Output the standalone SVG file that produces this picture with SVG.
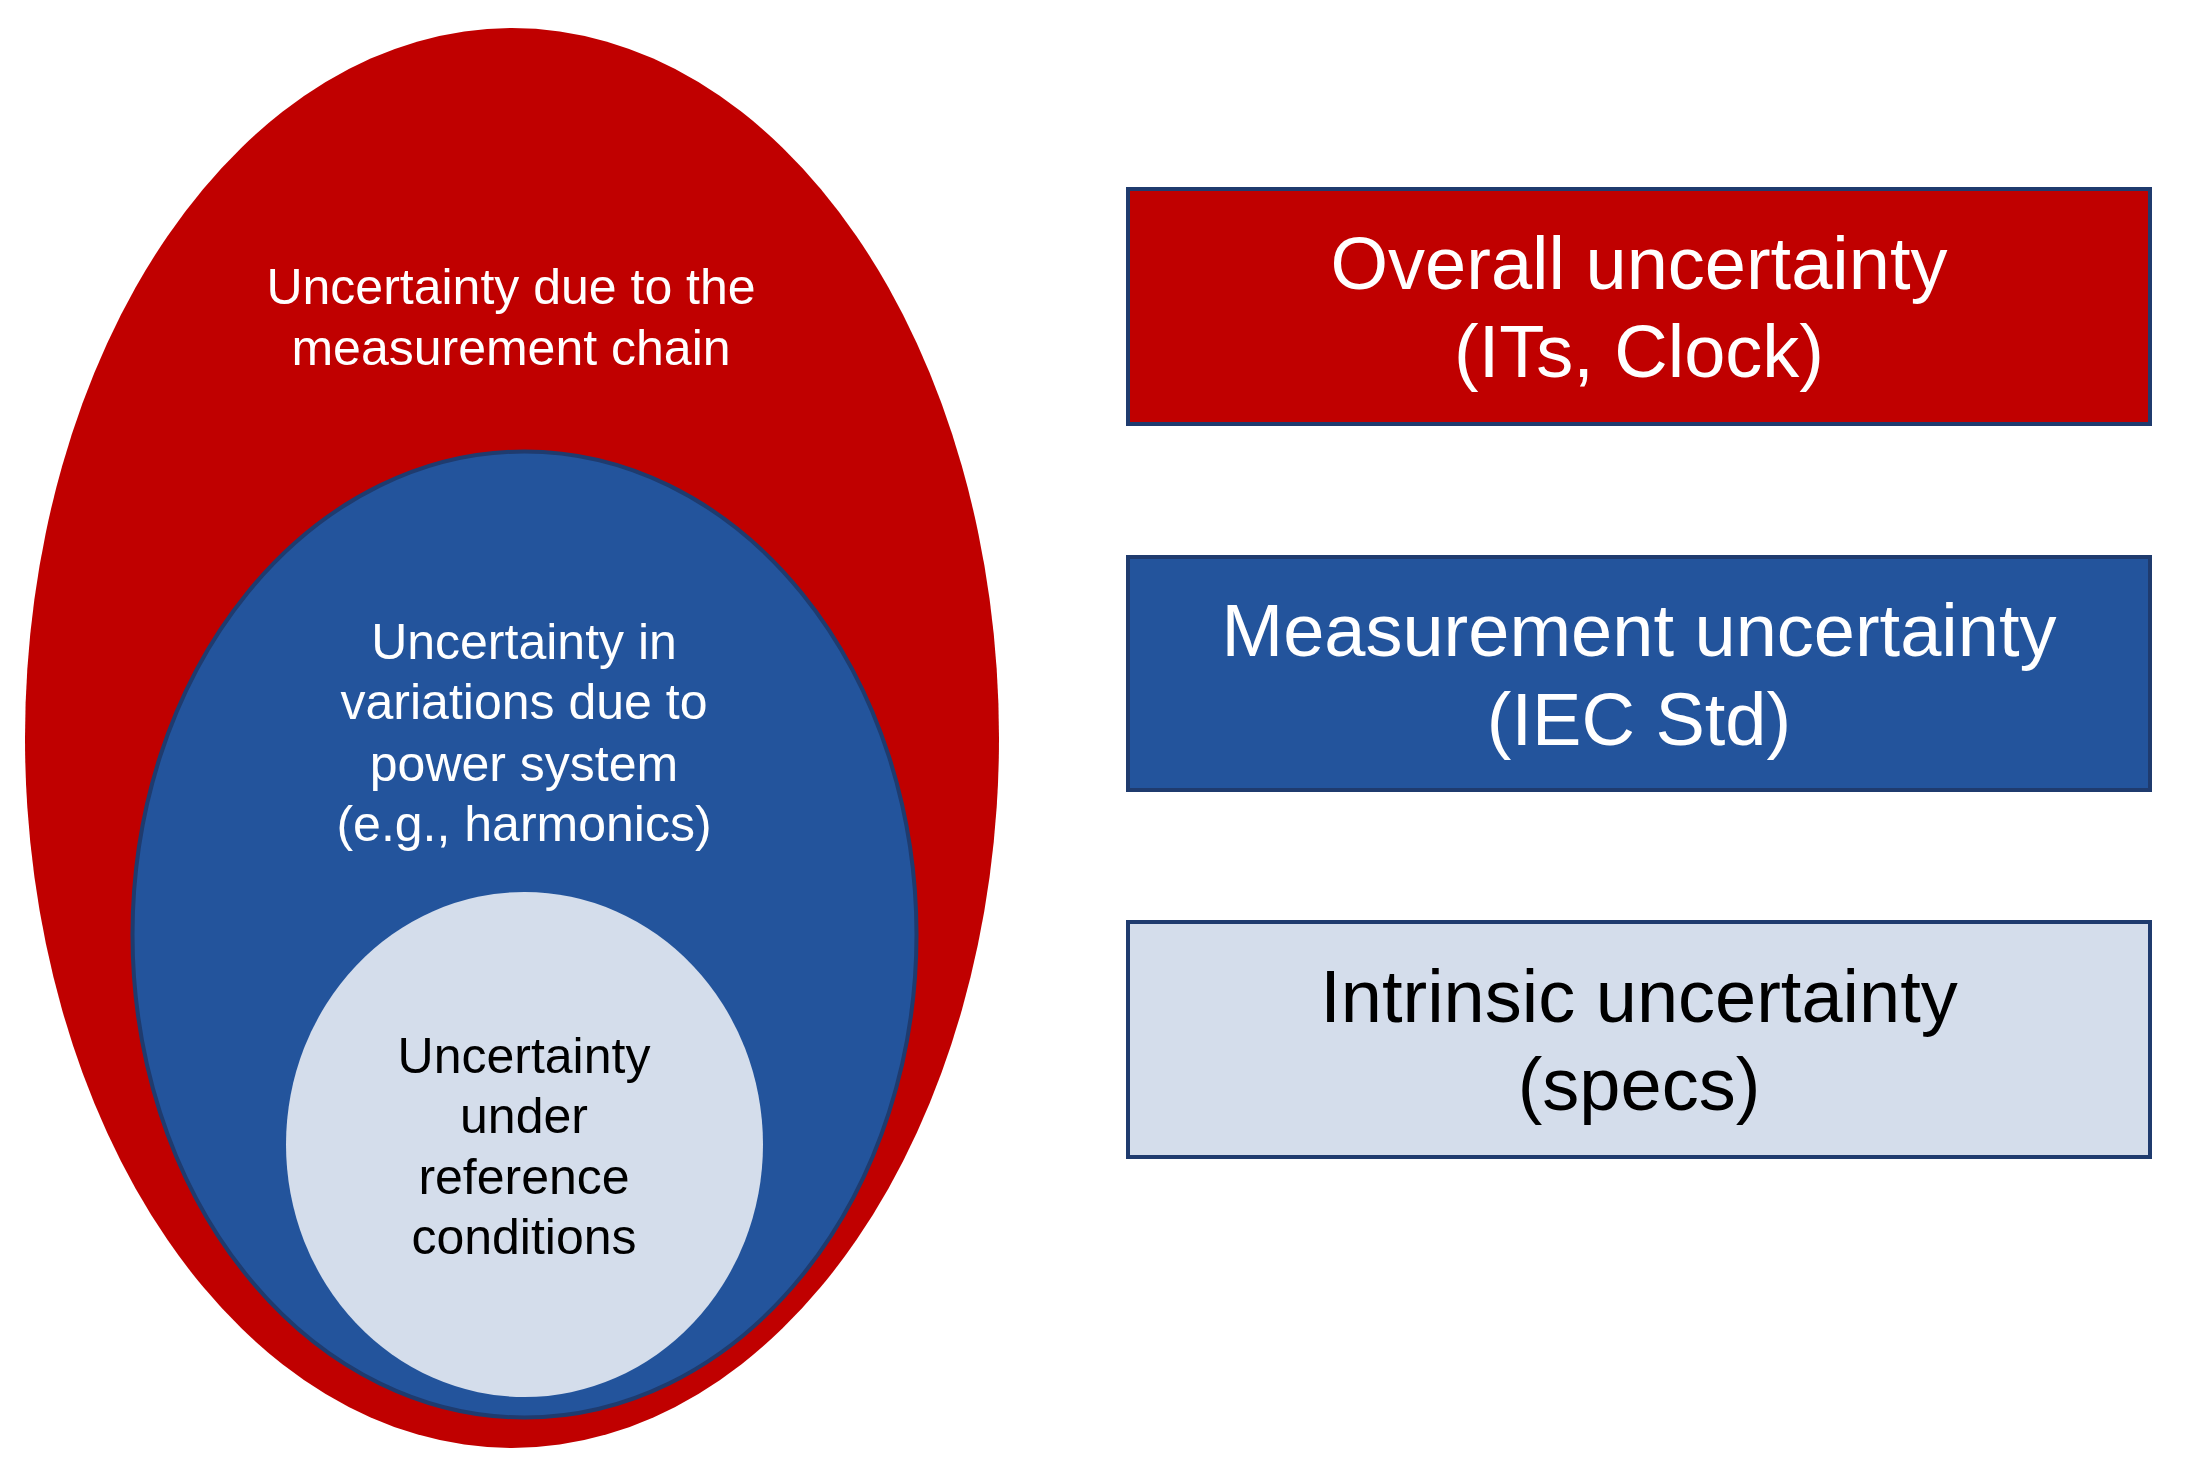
<svg xmlns="http://www.w3.org/2000/svg" width="2190" height="1472" viewBox="0 0 2190 1472">
<style>
text{font-family:"Liberation Sans",Arial,sans-serif;text-anchor:middle}
.s{font-size:50px}
.b{font-size:74px}
.w{fill:#FFFFFF}
.k{fill:#000000}
.box{stroke:#1F3B6E;stroke-width:4}
</style>
<rect width="2190" height="1472" fill="#FFFFFF"/>
<g id="outer">
<ellipse cx="512" cy="738" rx="487" ry="710" fill="#C00000"/>
<text class="s w" x="511" y="304">Uncertainty due to the</text>
<text class="s w" x="511" y="365">measurement chain</text>
</g>
<g id="middle">
<ellipse cx="524.5" cy="934.5" rx="392" ry="483" fill="#23549C" stroke="#1F3B6E" stroke-width="4"/>
<text class="s w" x="524" y="659">Uncertainty in</text>
<text class="s w" x="524" y="719">variations due to</text>
<text class="s w" x="524" y="781">power system</text>
<text class="s w" x="524" y="841">(e.g., harmonics)</text>
</g>
<g id="inner">
<ellipse cx="524.5" cy="1144.5" rx="238.5" ry="252.5" fill="#D4DDEB"/>
<text class="s k" x="524" y="1073">Uncertainty</text>
<text class="s k" x="524" y="1133">under</text>
<text class="s k" x="524" y="1194">reference</text>
<text class="s k" x="524" y="1254">conditions</text>
</g>
<g id="box-overall">
<rect class="box" x="1128" y="189" width="1022" height="235" fill="#C00000"/>
<text class="b w" x="1639" y="289">Overall uncertainty</text>
<text class="b w" x="1639" y="377">(ITs, Clock)</text>
</g>
<g id="box-measurement">
<rect class="box" x="1128" y="557" width="1022" height="233" fill="#23549C"/>
<text class="b w" x="1639" y="656">Measurement uncertainty</text>
<text class="b w" x="1639" y="745">(IEC Std)</text>
</g>
<g id="box-intrinsic">
<rect class="box" x="1128" y="922" width="1022" height="235" fill="#D4DDEB"/>
<text class="b k" x="1639" y="1022">Intrinsic uncertainty</text>
<text class="b k" x="1639" y="1110">(specs)</text>
</g>
<g id="connectors"/>
</svg>
